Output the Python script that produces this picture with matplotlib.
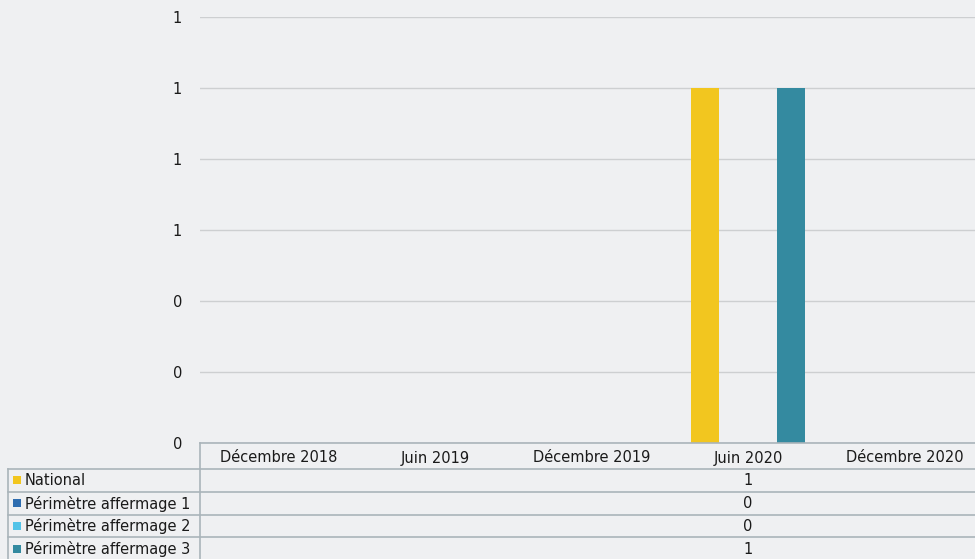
import matplotlib.pyplot as plt
import numpy as np
from matplotlib.ticker import FuncFormatter, MultipleLocator

periods = ["Décembre 2018", "Juin 2019", "Décembre 2019", "Juin 2020", "Décembre 2020"]
series_names = ["National", "Périmètre affermage 1", "Périmètre affermage 2", "Périmètre affermage 3"]
national = [None, None, None, 1, None]
affermage_1 = [None, None, None, 0, None]
affermage_2 = [None, None, None, 0, None]
affermage_3 = [None, None, None, 1, None]
series_values = [national, affermage_1, affermage_2, affermage_3]
colors = ["#f2c61f", "#2e6db0", "#52c3e8", "#348aa0"]

BG = "#eff0f2"
GRID = "#cdcfd1"
TABLE_LINE = "#aab4ba"
TEXT = "#1a1a1a"
FONT = ["DejaVu Sans"]
FS = 10.5

W, H = 975, 559
fig = plt.figure(figsize=(W / 100, H / 100), dpi=100, facecolor=BG)

# plot area in pixels: left 200, zero line at 443, top tick at 17
x0, y0, y_top = 200, 443, 17
col_w = 156.6
ax = fig.add_axes([x0 / W, (H - y0) / H, 5 * col_w / W, (y0 - y_top) / H])
ax.set_facecolor(BG)

n = len(series_values)
bar_w = 0.18
step = 0.183
xs = np.arange(len(periods)) + 0.5
for k, (vals, c) in enumerate(zip(series_values, colors)):
    h = [np.nan if v is None else v for v in vals]
    ax.bar(xs + (k - (n - 1) / 2) * step, h, width=bar_w, color=c, zorder=3)

ax.set_xlim(0, len(periods))
ax.set_ylim(0, 1.2)
ax.yaxis.set_major_locator(MultipleLocator(0.2))
ax.yaxis.set_major_formatter(FuncFormatter(lambda v, _: f"{v:.0f}"))
ax.grid(True, axis="y", color=GRID, lw=1.0)
ax.set_axisbelow(True)
ax.set_xticks([])
ax.tick_params(axis="y", length=0, pad=13, labelsize=FS, labelcolor=TEXT)
for lab in ax.get_yticklabels():
    lab.set_family(FONT)
for s in ax.spines.values():
    s.set_visible(False)

# data table under the plot, drawn in pixel coordinates
tab = fig.add_axes([0, 0, 1, 1])
tab.set_xlim(0, W)
tab.set_ylim(H, 0)
tab.axis("off")
tab.patch.set_alpha(0)

left = 8
right = x0 + 5 * col_w
header_h = 26
row_h = 22.8
row_tops = [y0 + header_h + i * row_h for i in range(n + 1)]

# horizontal rules
tab.plot([x0, right], [y0, y0], color=TABLE_LINE, lw=1.2)
for y in row_tops:
    tab.plot([left, right], [y, y], color=TABLE_LINE, lw=1.2)
# vertical rules
tab.plot([left, left], [row_tops[0], row_tops[-1]], color=TABLE_LINE, lw=1.2)
tab.plot([x0, x0], [y0, row_tops[-1]], color=TABLE_LINE, lw=1.2)

for i, p in enumerate(periods):
    tab.text(x0 + (i + 0.5) * col_w, y0 + header_h / 2 + 2, p, ha="center", va="center",
             fontsize=FS, color=TEXT, family=FONT)

for r, (name, vals, c) in enumerate(zip(series_names, series_values, colors)):
    yc = row_tops[r] + row_h / 2
    tab.add_patch(plt.Rectangle((13, yc - 4), 8, 8, color=c, lw=0))
    tab.text(25, yc + 0.5, name, ha="left", va="center", fontsize=FS, color=TEXT, family=FONT)
    for i, v in enumerate(vals):
        if v is not None:
            tab.text(x0 + (i + 0.5) * col_w, yc + 0.5, f"{v:.0f}", ha="center", va="center",
                     fontsize=FS, color=TEXT, family=FONT)

fig.savefig("out.png", dpi=100, facecolor=BG)
